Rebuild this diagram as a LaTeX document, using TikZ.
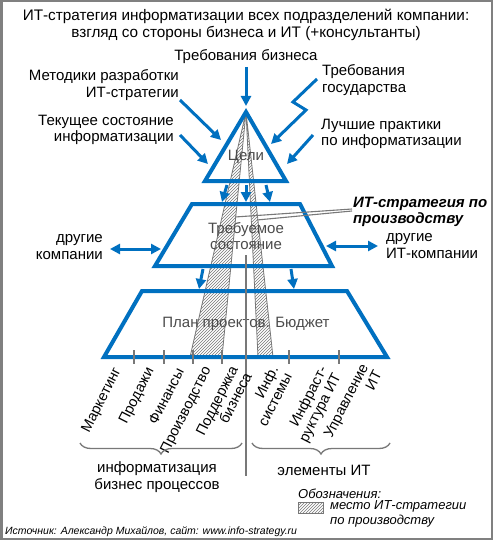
\documentclass[tikz,border=0pt]{standalone}
\usepackage{fontspec}
\setmainfont{Liberation Sans}
\usetikzlibrary{arrows.meta,patterns,decorations.pathreplacing}
\definecolor{pblue}{RGB}{0,112,192}
\definecolor{tgray}{RGB}{75,75,75}
\definecolor{lgray}{RGB}{120,120,120}
\begin{document}
\begin{tikzpicture}[x=1pt,y=-1pt,
  txt/.style={font=\fontsize{15}{16.5}\selectfont, inner sep=0pt},
  intxt/.style={txt, text=tgray, align=center},
  rlbl/.style={font=\fontsize{14.5}{15.5}\selectfont, inner sep=0pt, rotate=63, anchor=east, align=right},
  barrow/.style={draw=pblue, line width=3pt, -{Triangle[length=10pt,width=10pt]}},
  darrow/.style={draw=pblue, line width=3pt, {Triangle[length=10pt,width=10pt]}-{Triangle[length=10pt,width=10pt]}},
  level/.style={draw=pblue, line width=4pt, line join=miter},
  wedge/.style={draw=lgray, line width=0.8pt, pattern=north east lines, pattern color=lgray},
  thin/.style={draw=lgray, line width=1.3pt},
  brc/.style={draw=lgray, line width=1.3pt, decorate, decoration={brace, amplitude=11pt, mirror}},
  leg/.style={font=\fontsize{13}{14.5}\selectfont\itshape, inner sep=0pt, align=left}
]
\useasboundingbox (0,0) rectangle (493,540);
\fill[white] (0,0) rectangle (493,540);
\draw[gray, line width=2.5pt] (1.25,1.25) rectangle (491.75,538.75);

% title
\node[font=\fontsize{15.3}{17}\selectfont, inner sep=0pt, align=center] (title) at (246,25) {ИТ-стратегия информатизации всех подразделений компании:\\взгляд со стороны бизнеса и ИТ (+консультанты)};

% coordinates of the pyramid
\coordinate (apex) at (246,112);
\coordinate (tbl) at (205,181);
\coordinate (tbr) at (286,181);
\coordinate (m1) at (192,204);
\coordinate (m2) at (300,204);
\coordinate (m3) at (332,266);
\coordinate (m4) at (155,266);
\coordinate (b1) at (142,291);
\coordinate (b2) at (347,291);
\coordinate (b3) at (387,357);
\coordinate (b4) at (104,357);

% hatched wedges
\fill[white] (apex) -- (190,357) -- (222,357) -- cycle;
\path[wedge] (apex) -- (190,357) -- (222,357) -- cycle;
\fill[white] (apex) -- (258,357) -- (273,357) -- cycle;
\path[wedge] (apex) -- (258,357) -- (273,357) -- cycle;

% levels
\draw[level] (apex) -- (tbr) -- (tbl) -- cycle;
\draw[level] (m1) -- (m2) -- (m3) -- (m4) -- cycle;
\draw[level] (b1) -- (b2) -- (b3) -- (b4) -- cycle;

\node[intxt] (goals) at (246,157) {Цели};
\node[intxt] (req) at (246,236) {Требуемое\\состояние};
\node[intxt] (plan) at (246,324) {План проектов. Бюджет};

% ticks and vertical divider
\foreach \x in {134,164,193,222,289,339} \draw[thin] (\x,350) -- (\x,364);
\coordinate (vtop) at (246,255);
\coordinate (vbot) at (246,476);
\draw[thin] (vtop) -- (vbot);

% input labels
\node[txt] (biz) at (246,57) {Требования бизнеса};
\node[txt, align=right, anchor=east] (meth) at (179,85) {Методики разработки\\ИТ-стратегии};
\node[txt, align=right, anchor=east] (cur) at (174,130) {Текущее состояние\\информатизации};
\node[txt, align=left, anchor=west] (gov) at (322,80) {Требования\\государства};
\node[txt, align=left, anchor=west] (best) at (321,134) {Лучшие практики\\по информатизации};

\coordinate (bizS) at (246,67);   \coordinate (bizE) at (246,106);
\coordinate (methS) at (180,100); \coordinate (methE) at (221,140);
\coordinate (curS) at (180,135);  \coordinate (curE) at (208,164);
\coordinate (bestS) at (313,135); \coordinate (bestE) at (287,164);
\coordinate (govS) at (317,79);   \coordinate (govA) at (293,102);
\coordinate (govB) at (306,110);  \coordinate (govE) at (271,144);
\draw[barrow] (bizS) -- (bizE);
\draw[barrow] (methS) -- (methE);
\draw[barrow] (curS) -- (curE);
\draw[barrow] (bestS) -- (bestE);
\draw[barrow, line join=miter] (govS) -- (govA) -- (govB) -- (govE);

% arrows between levels
\draw[barrow] (227,185) -- (222,202);
\draw[barrow] (246,185) -- (246,202);
\draw[barrow] (266,185) -- (270,202);
\draw[barrow] (203,269) -- (199,289);
\draw[barrow] (291,269) -- (294,289);

% side exchanges
\node[txt, align=right, anchor=east] (oth) at (103,247) {другие\\компании};
\node[txt, align=left, anchor=west] (othit) at (386,246) {другие\\ИТ-компании};
\draw[darrow] (110,249) -- (161,249);
\draw[darrow] (326,246) -- (378,246);

% IT strategy callout
\node[font=\fontsize{15}{15.5}\selectfont\bfseries\itshape, inner sep=0pt, align=left, anchor=west] (its) at (353,212) {ИТ-стратегия по\\производству};
\coordinate (itsA) at (352,209);
\coordinate (itsB) at (352,211);
\coordinate (wl) at (235,217);
\coordinate (wr) at (257,220);
\draw[thin, line width=1.1pt] (wl) -- (itsA);
\draw[thin, line width=1.1pt] (wr) -- (itsB);

% rotated labels
\node[rlbl] (mk) at (118,369) {Маркетинг};
\node[rlbl] (pr) at (151,369) {Продажи};
\node[rlbl] (fn) at (180,369) {Финансы};
\node[rlbl] (pd) at (208,368) {Производство};
\node[rlbl] (sp) at (241,370) {Поддержка\\бизнеса};
\node[rlbl] (is) at (281,370) {Инф.\\системы};
\node[rlbl] (inf) at (331,371) {Инфраст-\\руктура ИТ};
\node[rlbl] (mg) at (371,368) {Управление\\ИТ};

% braces
\draw[brc] (80,443) -- (242,443);
\draw[brc] (252,443) -- (390,443);
\node[txt, align=center] (bp) at (157,477) {информатизация\\бизнес процессов};
\node[txt] (itel) at (324,470) {элементы ИТ};

% legend
\node[leg, anchor=west] (legt) at (298,494) {Обозначения:};
\fill[white] (298,502) rectangle (323,513);
\path[wedge] (298,502) rectangle (323,513);
\node[leg, anchor=west] (legx) at (330,514) {место ИТ-стратегии\\по производству};

\node[font=\fontsize{10.5}{12}\selectfont\itshape, inner sep=0pt, anchor=west] (src) at (5,532) {Источник: Александр Михайлов, сайт: www.info-strategy.ru};
\end{tikzpicture}
\end{document}
